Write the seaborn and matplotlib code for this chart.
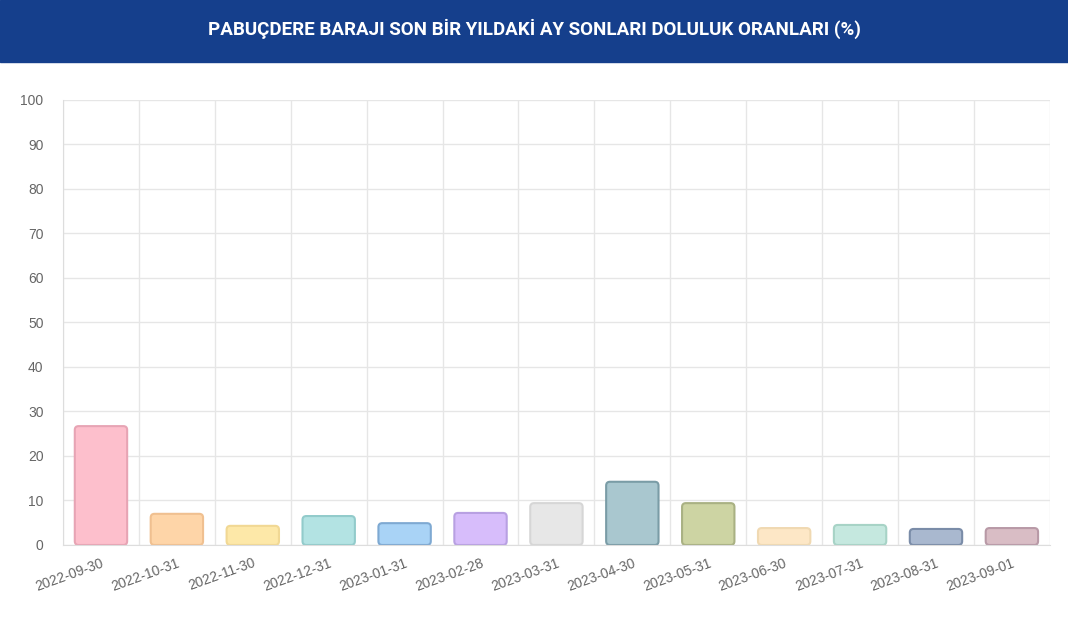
import numpy as np
import pandas as pd
import matplotlib
matplotlib.use("Agg")
import matplotlib.pyplot as plt
from matplotlib.patches import FancyBboxPatch
import seaborn as sns

dates = ['2022-09-30', '2022-10-31', '2022-11-30', '2022-12-31', '2023-01-31',
         '2023-02-28', '2023-03-31', '2023-04-30', '2023-05-31', '2023-06-30',
         '2023-07-31', '2023-08-31', '2023-09-01']
doluluk = [26.7, 7.0, 4.3, 6.5, 4.9, 7.2, 9.4, 14.2, 9.4, 3.8, 4.5, 3.6, 3.8]

fill_colors = ['#fdbfcc', '#fed5a8', '#fde8a8', '#b3e3e3', '#a9d3f6', '#d7bdfb',
               '#e7e7e7', '#a9c7cf', '#cdd4a3', '#fde7c6', '#c5e8df', '#a9b8cf', '#d9bdc5']
edge_colors = ['#e7a4b4', '#f0c090', '#f1d894', '#92cbcb', '#7ea9d2', '#b8a0e2',
               '#d6d6d6', '#7a9ca6', '#a9b183', '#f0d9b2', '#a7d3c6', '#7a8ca8', '#b899a6']

df = pd.DataFrame({'tarih': dates, 'oran': doluluk})

sns.set_style('white')
plt.rcParams['font.family'] = ['Liberation Sans', 'DejaVu Sans']

fig = plt.figure(figsize=(10.68, 6.2), dpi=100)
ax = fig.add_axes([0.059, 0.121, 0.924, 0.718])

sns.barplot(data=df, x='tarih', y='oran', hue='tarih', palette=fill_colors,
            saturation=1, legend=False, width=0.69, ax=ax, zorder=3)

ax.set_ylim(0, 100)
ax.set_xlim(-0.5, len(dates) - 0.5)

# swap the plain rectangles for slightly rounded ones (chart.js look)
bbox = ax.get_window_extent()
px_x = bbox.width / len(dates)
px_y = bbox.height / 100
for bar, ec in list(zip(ax.patches, edge_colors)):
    x, y = bar.get_x(), bar.get_y()
    w, h = bar.get_width(), bar.get_height()
    rounded = FancyBboxPatch((x, y), w, h,
                             boxstyle='round,pad=0,rounding_size=0.05',
                             mutation_aspect=px_x / px_y,
                             facecolor=bar.get_facecolor(), edgecolor=ec,
                             linewidth=1.5, zorder=3)
    bar.set_visible(False)
    ax.add_patch(rounded)

ax.set_yticks(range(0, 101, 10))
ax.set_xticks(np.arange(len(dates)))
ax.set_xticklabels(dates, rotation=20, ha='right', rotation_mode='anchor')
ax.tick_params(axis='both', labelsize=10, labelcolor='#666666', length=0, pad=8)
ax.set_xlabel('')
ax.set_ylabel('')

# category boundary grid like the original
ax.set_xticks(np.arange(-0.5, len(dates), 1), minor=True)
ax.grid(axis='x', which='minor', color='#e6e6e6', linewidth=1, zorder=0)
ax.grid(axis='y', which='major', color='#e6e6e6', linewidth=1, zorder=0)
ax.tick_params(axis='x', which='minor', length=6, color='#e6e6e6')
ax.tick_params(axis='y', which='major', length=6, color='#e6e6e6')
for side in ['top', 'right']:
    ax.spines[side].set_visible(False)
ax.spines['left'].set_color('#dddddd')
ax.spines['bottom'].set_color('#dddddd')
ax.spines['bottom'].set_zorder(4)

# title banner
fig.patches.append(plt.Rectangle((0, 0.9), 1, 0.1, transform=fig.transFigure,
                                 color='#153f8c', zorder=0))
fig.text(0.5, 0.953, 'PABUÇDERE BARAJI SON BİR YILDAKİ AY SONLARI DOLULUK ORANLARI (%)',
         ha='center', va='center', color='white', fontsize=13.5, fontweight='bold',
         family=['Roboto', 'DejaVu Sans'])

fig.savefig('out.png', dpi=100)
